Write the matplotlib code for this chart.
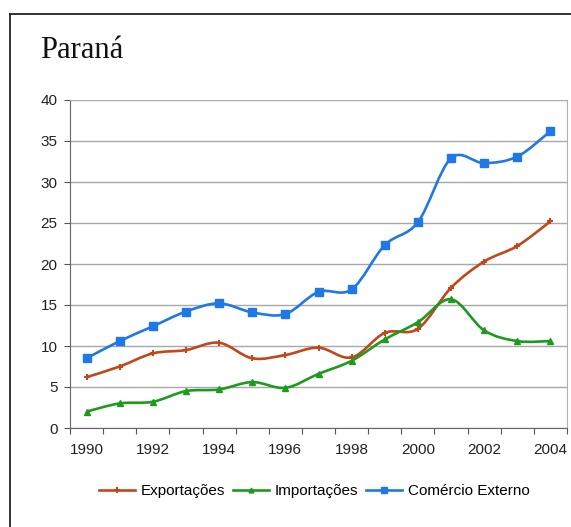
import numpy as np
import matplotlib
matplotlib.use("Agg")
import matplotlib.pyplot as plt
from matplotlib.path import Path
from matplotlib.patches import PathPatch
from matplotlib.lines import Line2D

plt.rcParams["font.family"] = ["Liberation Sans", "DejaVu Sans"]

# data
anos = [1990, 1991, 1992, 1993, 1994, 1995, 1996, 1997,
        1998, 1999, 2000, 2001, 2002, 2003, 2004]
exportacoes = [6.2, 7.5, 9.1, 9.5, 10.4, 8.5, 8.9, 9.8,
               8.6, 11.6, 12.1, 17.1, 20.3, 22.2, 25.2]
importacoes = [2.0, 3.0, 3.2, 4.5, 4.7, 5.6, 4.9, 6.6,
               8.2, 10.8, 12.9, 15.7, 11.9, 10.6, 10.6]
comercio = [8.5, 10.6, 12.4, 14.2, 15.2, 14.1, 13.9, 16.6,
            16.9, 22.3, 25.1, 32.9, 32.3, 33.1, 36.2]
anos_rotulos = ["1990", "1992", "1994", "1996", "1998", "2000", "2002", "2004"]

W, H = 571, 527
fig = plt.figure(figsize=(W / 100, H / 100), dpi=100)
ax = fig.add_axes([70 / W, (H - 428) / H, (567 - 70) / W, (428 - 100) / H])


def smooth_path(x, y):
    # curva suave (bezier) passando pelos pontos, como a linha suavizada do Excel
    pts = np.column_stack([x, y]).astype(float)
    n = len(pts)
    verts = [pts[0]]
    codes = [Path.MOVETO]
    for i in range(n - 1):
        p0 = pts[max(i - 1, 0)]
        p1 = pts[i]
        p2 = pts[i + 1]
        p3 = pts[min(i + 2, n - 1)]
        c1 = p1 + (p2 - p0) / 6.0
        c2 = p2 - (p3 - p1) / 6.0
        verts += [c1, c2, p2]
        codes += [Path.CURVE4] * 3
    return Path(verts, codes)


series = [
    ("Exportações", exportacoes, "#c0481c", "+", 5, 1.5),
    ("Importações", importacoes, "#1e9a1e", "^", 4.5, 1),
    ("Comércio Externo", comercio, "#1f78e6", "s", 5.5, 1),
]

handles = []
for nome, vals, cor, mk, ms, mew in series:
    ax.add_patch(PathPatch(smooth_path(anos, vals), facecolor="none",
                           edgecolor=cor, lw=1.9, zorder=3))
    ax.plot(anos, vals, ls="none", marker=mk, color=cor, ms=ms, mew=mew, zorder=4)
    handles.append(Line2D([], [], color=cor, lw=1.9, marker=mk, ms=ms - 1, mew=mew))

ax.set_xlim(1989.5, 2004.5)
ax.set_ylim(0, 40)
ax.set_yticks(range(0, 41, 5))
ax.yaxis.grid(True, color="#a8a8a8", lw=1)
ax.set_axisbelow(True)

# ticks nas divisões das categorias, rótulos a cada dois anos
ax.set_xticks(np.arange(1989.5, 2005, 1))
ax.set_xticklabels([])
ax.set_xticks(anos[::2], minor=True)
ax.set_xticklabels(anos_rotulos, minor=True)
ax.tick_params(axis="x", which="major", length=4, direction="out", color="#555555")
ax.tick_params(axis="x", which="minor", length=0, pad=11, labelsize=11, labelcolor="#222222")
ax.tick_params(axis="y", length=4, direction="out", color="#555555",
               labelsize=11, labelcolor="#222222", pad=5)

for s in ["left", "bottom"]:
    ax.spines[s].set_color("#666666")
for s in ["top", "right"]:
    ax.spines[s].set_color("#b0b0b0")

fig.legend(handles, [s[0] for s in series], loc="center",
           bbox_to_anchor=(314 / W, 1 - 491 / H), ncol=3, frameon=False,
           fontsize=11, handlelength=2.4, handletextpad=0.35, columnspacing=0.5)

fig.text(40 / W, 1 - 50 / H, "Paraná", family="Liberation Serif", fontsize=22,
         va="center", ha="left", color="#111111")

# moldura externa
fig.add_artist(Line2D([10 / W, 1], [1 - 14 / H, 1 - 14 / H], color="#222222", lw=1.3))
fig.add_artist(Line2D([10 / W, 10 / W], [1 - 14 / H, 0], color="#222222", lw=1.3))

fig.savefig("out.png", dpi=100)
